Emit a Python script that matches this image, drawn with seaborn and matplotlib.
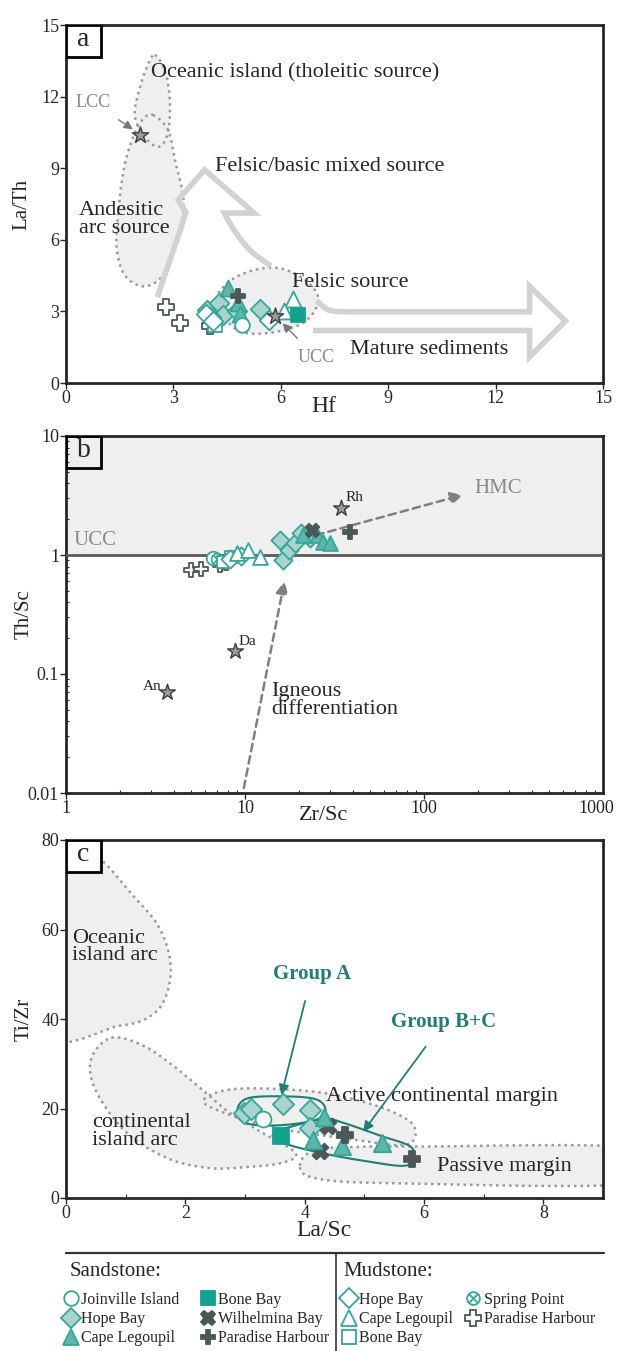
import matplotlib
matplotlib.use("Agg")
import matplotlib.pyplot as plt
import numpy as np
import seaborn as sns
from matplotlib.lines import Line2D
from matplotlib.patches import Polygon, Rectangle
from matplotlib.ticker import FixedLocator, FuncFormatter, NullFormatter

# ---- colours ----
TEAL = "#33a898"
TEAL_DARK = "#1f7f72"
HOPE_FILL = "#a9d4ce"
CAPE_FILL = "#5db6aa"
BONE_FILL = "#13a190"
DARK = "#4b5858"
STAR_FILL = "#9c9c9c"
FIELD = "#efefef"
FIELD_EDGE = "#9a9a9a"
ARROW = "#d2d2d2"
NOTE = "#8a8a8a"

# ---- series (sandstone "s_", mudstone "m_") ----
SAND = ["s_joinville", "s_hope", "s_cape", "s_bone", "s_wilhelmina", "s_paradise"]
MUD = ["m_hope", "m_cape", "m_bone", "m_spring", "m_paradise"]
LABELS = {
    "s_joinville": "Joinville Island", "s_hope": "Hope Bay", "s_cape": "Cape Legoupil",
    "s_bone": "Bone Bay", "s_wilhelmina": "Wilhelmina Bay", "s_paradise": "Paradise Harbour",
    "m_hope": "Hope Bay", "m_cape": "Cape Legoupil", "m_bone": "Bone Bay",
    "m_spring": "Spring Point", "m_paradise": "Paradise Harbour",
}
STYLE = {
    "s_joinville": dict(marker="o", face="white", edge=TEAL, scale=1.0, lw=1.3),
    "s_hope": dict(marker="D", face=HOPE_FILL, edge=TEAL, scale=0.9, lw=1.3),
    "s_cape": dict(marker="^", face=CAPE_FILL, edge=TEAL, scale=1.2, lw=1.3),
    "s_bone": dict(marker="s", face=BONE_FILL, edge=BONE_FILL, scale=0.9, lw=1.3),
    "s_wilhelmina": dict(marker="X", face=DARK, edge=DARK, scale=1.0, lw=1.3),
    "s_paradise": dict(marker="P", face=DARK, edge=DARK, scale=1.0, lw=1.3),
    "m_hope": dict(marker="D", face="white", edge=TEAL, scale=0.9, lw=1.3),
    "m_cape": dict(marker="^", face="white", edge=TEAL, scale=1.2, lw=1.3),
    "m_bone": dict(marker="s", face="white", edge=TEAL, scale=0.9, lw=1.3),
    "m_spring": dict(marker=r"$\otimes$", face=TEAL, edge=TEAL, scale=1.0, lw=0),
    "m_paradise": dict(marker="P", face="white", edge=DARK, scale=1.1, lw=1.3),
}

# ---- panel a: Hf vs La/Th ----
a_points = {
    "m_paradise": ([2.80, 3.18, 4.02], [3.18, 2.50, 2.38]),
    "m_bone": ([4.15], [2.42]),
    "s_hope": ([3.93, 4.26, 4.39, 4.77, 5.43, 4.05], [3.05, 3.35, 2.85, 3.00, 3.10, 2.75]),
    "m_hope": ([5.68, 3.90, 4.10], [2.65, 2.90, 2.60]),
    "s_cape": ([4.52, 4.80, 4.86], [4.00, 3.35, 2.90]),
    "s_paradise": ([4.80], [3.65]),
    "s_joinville": ([4.92], [2.45]),
    "m_cape": ([6.34, 6.08], [3.50, 3.00]),
    "s_bone": ([6.49], [2.85]),
}
a_refs_hf = [2.07, 5.85]
a_refs_lath = [10.40, 2.80]

# ---- panel b: Zr/Sc vs Th/Sc ----
b_points = {
    "m_paradise": ([5.0, 5.7, 7.25, 7.8], [0.75, 0.77, 0.82, 0.86]),
    "s_joinville": ([6.65], [0.94]),
    "m_spring": ([7.0], [0.93]),
    "m_bone": ([7.5, 8.4], [0.88, 0.96]),
    "m_hope": ([8.2, 9.5], [0.92, 0.98]),
    "m_cape": ([9.0, 10.4, 12.1], [1.03, 1.10, 0.97]),
    "s_hope": ([16.4, 17.5, 15.7, 19.0, 23.1, 20.5], [0.91, 1.10, 1.34, 1.25, 1.38, 1.52]),
    "s_cape": ([21.2, 25.1, 27.4, 29.8], [1.47, 1.47, 1.29, 1.25]),
    "s_wilhelmina": ([23.6], [1.62]),
    "s_paradise": ([38.6], [1.55]),
}
b_refs_names = ["An", "Da", "Rh"]
b_refs_zrsc = [3.66, 8.8, 34.6]
b_refs_thsc = [0.070, 0.155, 2.5]

# ---- panel c: La/Sc vs Ti/Zr ----
c_points = {
    "s_hope": ([2.99, 3.10, 3.63, 4.09, 4.09], [19.1, 19.9, 20.9, 19.6, 15.7]),
    "s_joinville": ([3.30], [17.6]),
    "s_bone": ([3.61], [13.9]),
    "s_wilhelmina": ([4.39, 4.25], [16.1, 10.4]),
    "s_cape": ([4.32, 4.14, 4.62, 5.30], [18.1, 13.0, 11.7, 12.2]),
    "s_paradise": ([4.67, 5.80], [14.1, 8.7]),
}

FS = 16  # annotation text size


def smooth(points, closed=True, n=24):
    """Catmull-Rom curve through outline control points."""
    p = np.asarray(points, float)
    p = np.vstack([p[-1], p, p[0], p[1]]) if closed else np.vstack([p[0], p, p[-1]])
    t = np.linspace(0, 1, n, endpoint=False)[:, None]
    out = []
    for i in range(1, len(p) - 2):
        p0, p1, p2, p3 = p[i - 1], p[i], p[i + 1], p[i + 2]
        out.append(0.5 * (2 * p1 + (p2 - p0) * t + (2 * p0 - 5 * p1 + 4 * p2 - p3) * t ** 2
                          + (3 * p1 - p0 - 3 * p2 + p3) * t ** 3))
    out.append(p[-2][None])
    return np.vstack(out)


def field(ax, pts):
    ax.add_patch(Polygon(smooth(pts), closed=True, facecolor=FIELD, edgecolor="none", zorder=1))
    ax.add_patch(Polygon(smooth(pts), closed=True, fill=False, edgecolor=FIELD_EDGE,
                         lw=1.8, linestyle=(0, (1, 1.6)), zorder=2))


def hollow_arrow(ax, *pieces):
    path = np.vstack([np.asarray(p, float) for p in pieces])
    ax.plot(path[:, 0], path[:, 1], color=ARROW, lw=4, solid_joinstyle="miter",
            solid_capstyle="butt", zorder=2)


def scatter_series(ax, points, size):
    for key, (xs, ys) in points.items():
        st = STYLE[key]
        sns.scatterplot(x=xs, y=ys, marker=st["marker"], s=size * st["scale"],
                        color=st["face"], edgecolor=st["edge"], linewidth=st["lw"],
                        ax=ax, legend=False, zorder=5)


def panel_tag(ax, letter, face="white"):
    fw, fh = 35 / ax.bbox.width, 32 / ax.bbox.height
    ax.add_patch(Rectangle((0, 1 - fh), fw, fh, transform=ax.transAxes, facecolor=face,
                           edgecolor="black", lw=2, zorder=10))
    ax.text(fw / 2, 1 - fh / 2 + 0.005, letter, transform=ax.transAxes, ha="center",
            va="center", fontsize=20, zorder=11)


def style_axes(ax, xlab_y, ylab_x=-0.08):
    for sp in ax.spines.values():
        sp.set_linewidth(2)
        sp.set_visible(True)
    ax.tick_params(direction="out", length=4, width=1, labelsize=13, pad=1)
    ax.xaxis.set_label_coords(0.48, xlab_y)
    ax.xaxis.label.set_va("center")
    ax.yaxis.set_label_coords(ylab_x, 0.5)
    ax.yaxis.label.set_va("center")


sns.set_theme(style="ticks")
plt.rcParams["font.family"] = ["Liberation Serif", "DejaVu Serif"]
plt.rcParams["mathtext.fontset"] = "dejavuserif"

fig = plt.figure(figsize=(6.21, 13.51), dpi=100)
H = 1351.0
L, W = 66 / 621, 537 / 621
ax_a = fig.add_axes([L, (H - 383) / H, W, 358 / H])
ax_b = fig.add_axes([L, (H - 793) / H, W, 357 / H])
ax_c = fig.add_axes([L, (H - 1198) / H, W, 358 / H])

# ================= panel a =================
ax = ax_a
field(ax, [(2.48, 13.74), (2.78, 13.0), (2.9, 11.8), (2.85, 10.5), (2.6, 9.9), (2.2, 10.3),
           (1.92, 11.2), (2.05, 12.3), (2.25, 13.2)])
field(ax, [(2.43, 11.23), (2.85, 10.6), (3.05, 9.3), (3.28, 7.67), (3.15, 6.2), (2.75, 4.6),
           (2.2, 4.05), (1.65, 4.5), (1.42, 5.6), (1.45, 7.0), (1.62, 9.0), (1.9, 10.4),
           (2.15, 11.05)])
field(ax, [(4.2, 3.5), (4.6, 4.3), (5.3, 4.75), (6.0, 4.8), (6.7, 4.3), (7.05, 3.5),
           (6.7, 2.6), (5.9, 2.15), (5.0, 2.1), (4.5, 2.6)])
hollow_arrow(ax,
             smooth([(2.55, 3.6), (2.78, 4.6), (3.08, 5.9), (3.35, 7.15)], closed=False),
             [(3.13, 7.67), (3.87, 8.93), (5.26, 7.12), (4.42, 7.12)],
             smooth([(4.42, 7.12), (4.72, 6.35), (5.15, 5.55), (5.72, 4.9)], closed=False))
hollow_arrow(ax,
             smooth([(7.0, 3.45), (7.35, 3.05), (7.9, 2.98)], closed=False),
             [(12.95, 2.98), (12.95, 4.05), (13.95, 2.6), (12.95, 1.1), (12.95, 2.2), (6.9, 2.2)])
scatter_series(ax, a_points, 110)
sns.scatterplot(x=a_refs_hf, y=a_refs_lath, marker="*", s=150, color=STAR_FILL,
                edgecolor="#3c3c3c", linewidth=1, ax=ax, legend=False, zorder=6)
ax.annotate("LCC", xy=(2.0, 10.5), xytext=(0.75, 11.75), color=NOTE, fontsize=13,
            ha="center", va="center",
            arrowprops=dict(arrowstyle="-|>", color="#777777", lw=1, shrinkA=7, shrinkB=4))
ax.annotate("UCC", xy=(6.05, 2.5), xytext=(7.0, 1.05), color=NOTE, fontsize=13,
            ha="center", va="center",
            arrowprops=dict(arrowstyle="-|>", color="#777777", lw=1, shrinkA=8, shrinkB=0))
ax.text(2.38, 12.98, "Oceanic island (tholeitic source)", fontsize=FS, va="center")
ax.text(4.17, 9.07, "Felsic/basic mixed source", fontsize=FS, va="center")
ax.text(0.35, 6.85, "Andesitic\narc source", fontsize=FS, va="center", linespacing=0.9)
ax.text(6.31, 4.19, "Felsic source", fontsize=FS, va="center")
ax.text(7.94, 1.40, "Mature sediments", fontsize=FS, va="center")
ax.set_xlim(0, 15)
ax.set_ylim(0, 15)
ax.set_xticks([0, 3, 6, 9, 12, 15])
ax.set_yticks([0, 3, 6, 9, 12, 15])
ax.set_xlabel("Hf", fontsize=17)
ax.set_ylabel("La/Th", fontsize=15)
style_axes(ax, -0.066, -0.082)
panel_tag(ax, "a")

# ================= panel b =================
ax = ax_b
ax.set_xscale("log")
ax.set_yscale("log")
ax.axhspan(1, 10, color=FIELD, zorder=0, lw=0)
ax.axhline(1, color="#5a5a5a", lw=2, zorder=3)
ax.annotate("", xy=(165, 3.2), xytext=(25, 1.47),
            arrowprops=dict(arrowstyle="-|>,head_length=0.6,head_width=0.3", color="#7f7f7f",
                            lw=1.8, linestyle=(0, (3, 2)), shrinkA=0, shrinkB=0), zorder=4)
ax.annotate("", xy=(16.6, 0.6), xytext=(9.85, 0.011),
            arrowprops=dict(arrowstyle="-|>,head_length=0.6,head_width=0.3", color="#7f7f7f",
                            lw=1.8, linestyle=(0, (3, 2)), shrinkA=0, shrinkB=0), zorder=4)
scatter_series(ax, b_points, 95)
sns.scatterplot(x=b_refs_zrsc, y=b_refs_thsc, marker="*", s=140, color=STAR_FILL,
                edgecolor="#3c3c3c", linewidth=1, ax=ax, legend=False, zorder=6)
for name, zx, ty in zip(b_refs_names, b_refs_zrsc, b_refs_thsc):
    if name == "An":
        ax.text(zx * 0.93, ty * 1.12, name, fontsize=11, ha="right", va="center")
    else:
        ax.text(zx * 1.05, ty * 1.22, name, fontsize=11, ha="left", va="center")
ax.text(1.1, 1.33, "UCC", color=NOTE, fontsize=15, va="center")
ax.text(190, 3.6, "HMC", color=NOTE, fontsize=15, va="center")
ax.text(14, 0.06, "Igneous\ndifferentiation", fontsize=FS, va="center", linespacing=0.9)
ax.set_xlim(1, 1000)
ax.set_ylim(0.01, 10)
ax.xaxis.set_major_locator(FixedLocator([1, 10, 100]))
ax.yaxis.set_major_locator(FixedLocator([0.01, 0.1, 1, 10]))
ax.xaxis.set_major_formatter(FuncFormatter(lambda v, _: f"{v:g}"))
ax.yaxis.set_major_formatter(FuncFormatter(lambda v, _: f"{v:g}"))
ax.xaxis.set_minor_formatter(NullFormatter())
ax.yaxis.set_minor_formatter(NullFormatter())
# last x tick label nudged inward so it stays inside the picture
ax.annotate("1000", xy=(1000, 0.01), xytext=(-5, -5), textcoords="offset points",
            ha="center", va="top", fontsize=13, annotation_clip=False)
ax.set_xlabel("Zr/Sc", fontsize=16)
ax.set_ylabel("Th/Sc", fontsize=15)
style_axes(ax, -0.062, -0.078)
ax.tick_params(which="minor", direction="in", length=2.5, width=0.8)
panel_tag(ax, "b", face="none")

# ================= panel c =================
ax = ax_c
field(ax, [(-0.4, 37.5), (0.9, 38.5), (1.42, 40.7), (1.68, 45.2), (1.75, 52.6), (1.55, 60.7),
           (1.09, 68.1), (0.56, 75.9), (0.2, 77.0), (-0.4, 77.5)])
field(ax, [(0.76, 35.8), (1.3, 34.0), (1.8, 29.5), (2.3, 24.0), (2.75, 19.0), (3.3, 14.5),
           (3.85, 10.0), (3.6, 7.8), (3.0, 6.9), (2.4, 6.7), (1.7, 8.9), (1.0, 14.8),
           (0.5, 24.0), (0.42, 31.0)])
field(ax, [(2.31, 22.0), (2.87, 24.4), (4.19, 23.7), (5.18, 20.7), (5.77, 17.0), (5.84, 13.3),
           (5.6, 11.8), (4.85, 13.0), (3.53, 15.6), (2.6, 19.3)])
field(ax, [(3.92, 7.2), (4.15, 10.6), (4.85, 11.4), (5.84, 11.5), (9.6, 11.1), (9.6, 3.3),
           (5.51, 3.3), (4.19, 4.4)])
grp_a = smooth([(2.87, 19.5), (3.05, 22.3), (3.7, 22.7), (4.2, 22.0), (4.35, 19.5),
                (4.15, 17.3), (3.5, 16.2), (3.0, 16.8)])
grp_bc = smooth([(3.55, 15.0), (4.3, 17.6), (4.6, 17.0), (5.25, 14.0), (5.8, 11.2),
                 (5.72, 7.3), (5.0, 8.3), (4.3, 10.0), (3.75, 11.8), (3.5, 13.2)])
ax.plot(grp_a[:, 0], grp_a[:, 1], color=TEAL_DARK, lw=1.5, zorder=3)
ax.plot(grp_bc[:, 0], grp_bc[:, 1], color=TEAL_DARK, lw=1.5, zorder=3)
scatter_series(ax, c_points, 130)
ax.annotate("Group A", xy=(3.61, 23.0), xytext=(4.12, 50.0), color=TEAL_DARK, fontsize=15,
            fontweight="bold", ha="center", va="center",
            arrowprops=dict(arrowstyle="-|>", color=TEAL_DARK, lw=1.3, shrinkA=10, shrinkB=0))
ax.annotate("Group B+C", xy=(4.98, 14.8), xytext=(6.33, 39.3), color=TEAL_DARK, fontsize=15,
            fontweight="bold", ha="center", va="center",
            arrowprops=dict(arrowstyle="-|>", color=TEAL_DARK, lw=1.3, shrinkA=10, shrinkB=0))
ax.text(0.1, 56.1, "Oceanic\nisland arc", fontsize=FS, va="center", linespacing=0.9)
ax.text(0.43, 14.8, "continental\nisland arc", fontsize=FS, va="center", linespacing=0.9)
ax.text(4.35, 22.6, "Active continental margin", fontsize=FS, va="center")
ax.text(6.22, 7.0, "Passive margin", fontsize=FS, va="center")
ax.set_xlim(0, 9)
ax.set_ylim(0, 80)
ax.set_xticks([0, 2, 4, 6, 8])
ax.set_xticks([1, 3, 5, 7], minor=True)
ax.set_yticks([0, 20, 40, 60, 80])
ax.set_xlabel("La/Sc", fontsize=17)
ax.set_ylabel("Ti/Zr", fontsize=15)
style_axes(ax, -0.09, -0.078)
ax.tick_params(axis="x", which="minor", direction="in", length=3, width=0.8)
panel_tag(ax, "c")

# ================= legend =================
lax = fig.add_axes([0, 0, 1, 1], zorder=-1)
lax.set_xlim(0, 621)
lax.set_ylim(H, 0)
lax.axis("off")
lax.plot([66, 604], [1253, 1253], color="#333333", lw=1.6)
lax.plot([336, 336], [1253, H], color="#333333", lw=1.2)
lax.text(70, 1272, "Sandstone:", fontsize=15, va="center")
lax.text(343, 1272, "Mudstone:", fontsize=15, va="center")


def handle(key):
    st = STYLE[key]
    return Line2D([], [], ls="none", marker=st["marker"], markersize=10.5 * st["scale"] ** 0.5,
                  markerfacecolor=st["face"], markeredgecolor=st["edge"],
                  markeredgewidth=st["lw"], label=LABELS[key])


for keys, x0, colsp in [(SAND, 63, 1.25), (MUD, 341, 0.75)]:
    fig.legend(handles=[handle(k) for k in keys], ncol=2, frameon=False,
               loc="upper left", bbox_to_anchor=(x0 / 621, (H - 1292) / H),
               fontsize=11.5, handletextpad=0.15, columnspacing=colsp, labelspacing=0.2,
               handlelength=1.0, borderaxespad=0, borderpad=0)

fig.savefig("out.png", dpi=100)
